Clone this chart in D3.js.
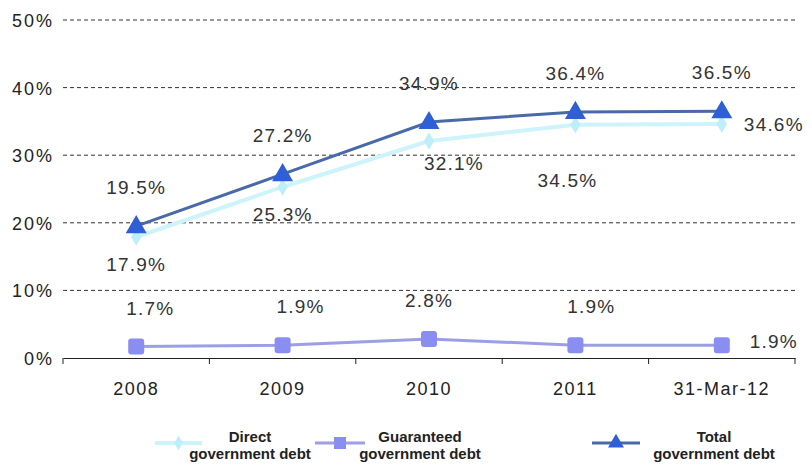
<!DOCTYPE html>
<html>
<head>
<meta charset="utf-8">
<script src="https://cdn.jsdelivr.net/npm/d3@7"></script>
<style>
  body { margin: 0; background: #fff; }
  svg { font-family: "Liberation Sans", Arial, sans-serif; }
</style>
</head>
<body>
<svg id="chart" width="812" height="464"></svg>
<script>
// Government debt as a share of GDP
const categories = ["2008", "2009", "2010", "2011", "31-Mar-12"];
const directDebt = [17.9, 25.3, 32.1, 34.5, 34.6];
const guaranteedDebt = [1.7, 1.9, 2.8, 1.9, 1.9];
const totalDebt = [19.5, 27.2, 34.9, 36.4, 36.5];
const yTicks = [0, 10, 20, 30, 40, 50];
const seriesNames = ["Direct\ngovernment debt", "Guaranteed\ngovernment debt", "Total\ngovernment debt"];

const svg = d3.select("#chart");
const margin = { left: 63, right: 17, top: 20, bottom: 106 };
const W = 812, H = 464;

const x = d3.scaleBand().domain(categories).range([margin.left, W - margin.right]);
const y = d3.scaleLinear().domain([0, 50]).range([H - margin.bottom, margin.top]);
const cx = c => x(c) + x.bandwidth() / 2;

// dashed gridlines
svg.append("g").selectAll("line")
  .data(yTicks.filter(t => t > 0))
  .join("line")
  .attr("x1", margin.left).attr("x2", W - margin.right)
  .attr("y1", d => y(d)).attr("y2", d => y(d))
  .attr("stroke", "#333").attr("stroke-width", 1)
  .attr("stroke-dasharray", "4,3");

// y tick labels
svg.append("g").selectAll("text")
  .data(yTicks)
  .join("text")
  .attr("x", 54).attr("y", d => y(d) + 7)
  .attr("text-anchor", "end")
  .attr("font-size", 18).attr("letter-spacing", 2).attr("fill", "#222")
  .text(d => d + "%");

// x axis
const xAxis = d3.axisBottom(x).tickSize(0).tickPadding(24);
const gx = svg.append("g").attr("transform", `translate(0,${y(0)})`).call(xAxis);
gx.select(".domain").attr("stroke", "#222");
gx.selectAll("text").attr("font-size", 18).attr("letter-spacing", 1.5).attr("fill", "#222")
  .attr("font-family", "'Liberation Sans', Arial, sans-serif");
// category boundary ticks
svg.append("g").selectAll("line")
  .data(categories.concat([null]))
  .join("line")
  .attr("x1", (d, i) => i < categories.length ? x(d) : x.range()[1])
  .attr("x2", (d, i) => i < categories.length ? x(d) : x.range()[1])
  .attr("y1", y(0)).attr("y2", y(0) + 6)
  .attr("stroke", "#222");

const line = d3.line().x((d, i) => cx(categories[i])).y(d => y(d));

const colors = {
  direct: "#cdf3fb", directMark: "#bdeefa",
  guar: "#9c9ee6", guarMark: "#8a8ef0",
  total: "#4a69a8", totalMark: "#2f5fd6"
};

// Direct debt
svg.append("path").datum(directDebt).attr("d", line)
  .attr("fill", "none").attr("stroke", colors.direct).attr("stroke-width", 4);
const diamond = d3.symbol().type(d3.symbolDiamond).size(90);
svg.append("g").selectAll("path").data(directDebt).join("path")
  .attr("transform", (d, i) => `translate(${cx(categories[i])},${y(d)})`)
  .attr("d", diamond).attr("fill", colors.directMark);

// Guaranteed debt
svg.append("path").datum(guaranteedDebt).attr("d", line)
  .attr("fill", "none").attr("stroke", colors.guar).attr("stroke-width", 3);
svg.append("g").selectAll("rect").data(guaranteedDebt).join("rect")
  .attr("x", (d, i) => cx(categories[i]) - 8).attr("y", d => y(d) - 8)
  .attr("width", 16).attr("height", 16).attr("rx", 3)
  .attr("fill", colors.guarMark);

// Total debt
svg.append("path").datum(totalDebt).attr("d", line)
  .attr("fill", "none").attr("stroke", colors.total).attr("stroke-width", 3);
const tri = d3.symbol().type(d3.symbolTriangle).size(190);
svg.append("g").selectAll("path").data(totalDebt).join("path")
  .attr("transform", (d, i) => `translate(${cx(categories[i])},${y(d) + 1})`)
  .attr("d", tri).attr("fill", colors.totalMark);

// value labels
function labels(values, place) {
  svg.append("g").selectAll("text").data(values).join("text")
    .attr("x", (d, i) => cx(categories[i]) + place(i)[0])
    .attr("y", (d, i) => y(d) + place(i)[1])
    .attr("text-anchor", "middle")
    .attr("font-size", 19).attr("letter-spacing", 1.2).attr("fill", "#333")
    .text(d => d.toFixed(1) + "%");
}
const last = categories.length - 1;
labels(totalDebt, i => [0, -32]);
labels(directDebt, i => i === last ? [52, 7] : i === 2 ? [25, 29] : i === 3 ? [-8, 62] : [0, 34]);
labels(guaranteedDebt, i => i === last ? [52, 3] : [i === 0 ? 14 : i === 1 ? 18 : i === 3 ? 16 : 0, -32]);

// legend
const legend = svg.append("g");
const items = [
  { x0: 155, x1: 202, tx: 250, stroke: colors.direct, w: 4, mark: "diamond" },
  { x0: 315, x1: 365, tx: 420, stroke: colors.guar, w: 3, mark: "square" },
  { x0: 592, x1: 640, tx: 714, stroke: colors.total, w: 3, mark: "triangle" }
];
items.forEach((it, k) => {
  const ly = 443, mx = (it.x0 + it.x1) / 2;
  legend.append("line").attr("x1", it.x0).attr("x2", it.x1).attr("y1", ly).attr("y2", ly)
    .attr("stroke", it.stroke).attr("stroke-width", it.w);
  if (it.mark === "diamond") {
    legend.append("path").attr("transform", `translate(${mx},${ly})`)
      .attr("d", d3.symbol().type(d3.symbolDiamond).size(60)).attr("fill", colors.directMark);
  } else if (it.mark === "square") {
    legend.append("rect").attr("x", mx - 6).attr("y", ly - 6).attr("width", 12).attr("height", 12)
      .attr("fill", colors.guarMark);
  } else {
    legend.append("path").attr("transform", `translate(${mx},${ly})`)
      .attr("d", d3.symbol().type(d3.symbolTriangle).size(110)).attr("fill", colors.totalMark);
  }
  const lines = seriesNames[k].split("\n");
  const t = legend.append("text").attr("text-anchor", "middle")
    .attr("font-size", 15).attr("font-weight", "bold").attr("fill", "#222");
  lines.forEach((s, j) => t.append("tspan").attr("x", it.tx).attr("y", 442 + j * 17).text(s));
});
</script>
</body>
</html>
